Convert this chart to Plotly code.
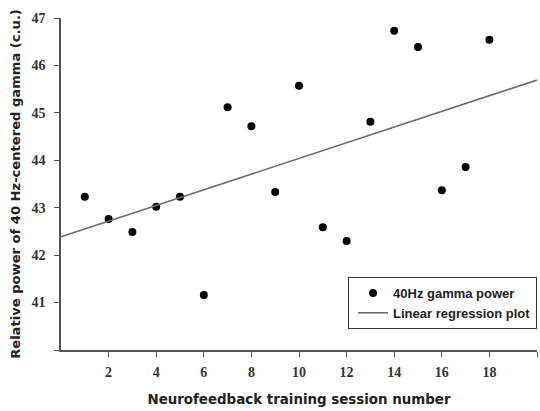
import numpy as np
import plotly.graph_objects as go

sessions = list(range(1, 19))
gamma_power = [43.23, 42.76, 42.49, 43.02, 43.23, 41.16, 45.12, 44.72, 43.33,
               45.57, 42.59, 42.30, 44.81, 46.73, 46.39, 43.37, 43.86, 46.54]
x_ticks = [2, 4, 6, 8, 10, 12, 14, 16, 18, 20]
x_tick_labels = ["2", "4", "6", "8", "10", "12", "14", "16", "18", ""]
y_ticks = [40, 41, 42, 43, 44, 45, 46, 47]
y_tick_labels = ["", "41", "42", "43", "44", "45", "46", "47"]

slope, intercept = np.polyfit(sessions, gamma_power, 1)
line_x = [0, 20]
line_y = [intercept + slope * v for v in line_x]

fig = go.Figure()
fig.add_trace(go.Scatter(
    x=sessions, y=gamma_power, mode="markers", name="40Hz gamma power",
    marker=dict(color="black", size=8, symbol="circle"),
))
fig.add_trace(go.Scatter(
    x=line_x, y=line_y, mode="lines", name="Linear regression plot",
    line=dict(color="#6a6a6a", width=1.6),
))

axis_common = dict(
    showgrid=False, zeroline=False, showline=True, linecolor="#555555", linewidth=1.6,
    ticks="outside", ticklen=5, tickwidth=1.4, tickcolor="#555555",
    tickfont=dict(family="Liberation Serif", size=14, color="#333333", weight="bold"),
)

fig.update_layout(
    width=540, height=411,
    margin=dict(l=61, r=3, t=18, b=61),
    paper_bgcolor="white", plot_bgcolor="white",
    xaxis=dict(range=[0, 20], tickvals=x_ticks, ticktext=x_tick_labels,
               ticklabelstandoff=3,
               title=dict(text="Neurofeedback training session number",
                          font=dict(family="DejaVu Sans", size=13.4, color="#222222", weight="bold"),
                          standoff=16),
               **axis_common),
    yaxis=dict(range=[40, 47], tickvals=y_ticks, ticktext=y_tick_labels,
               ticklabelstandoff=6,
               title=dict(text="Relative power of 40 Hz-centered gamma (c.u.)",
                          font=dict(family="DejaVu Sans", size=13.1, color="#222222", weight="bold"),
                          standoff=8),
               **axis_common),
    legend=dict(x=0.603, y=0.22, xanchor="left", yanchor="top",
                bordercolor="#333333", borderwidth=1, bgcolor="white",
                font=dict(family="Liberation Sans", size=13, color="#222222", weight="bold"),
                tracegroupgap=0, itemwidth=30, indentation=4),
    showlegend=True,
)

fig.write_html("out.html")
